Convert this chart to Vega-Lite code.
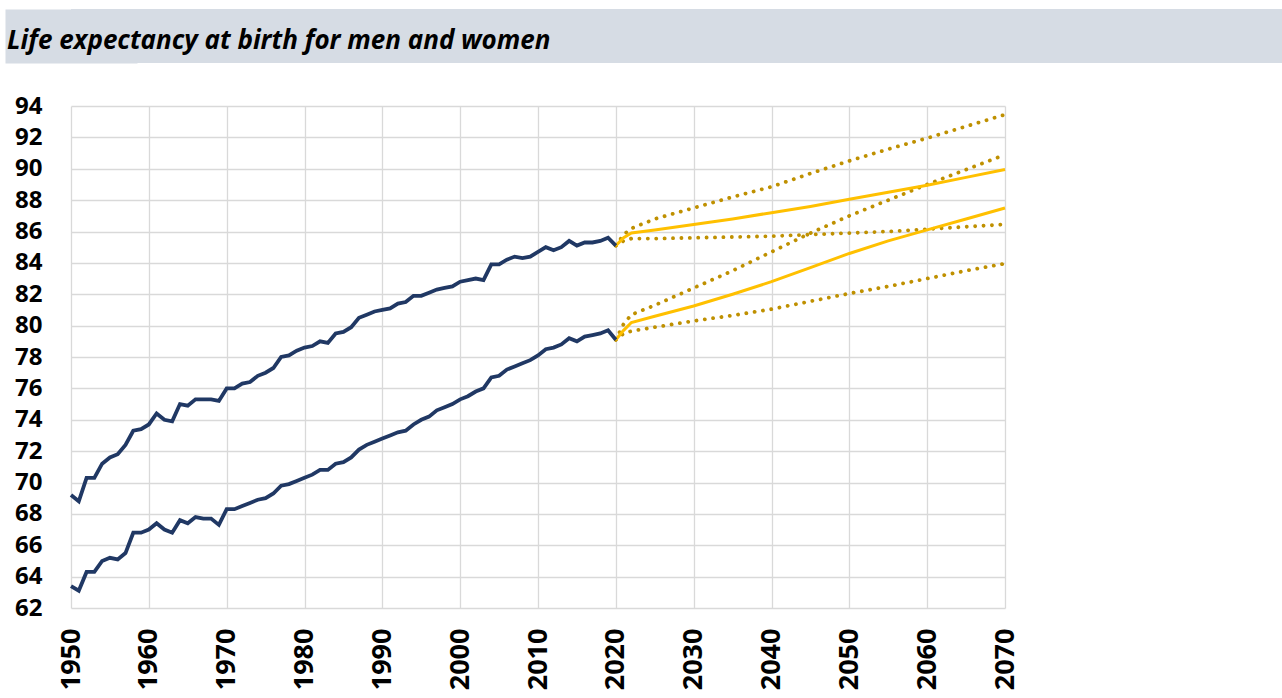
{
  "$schema": "https://vega.github.io/schema/vega-lite/v6.json",
  "background": "white",
  "padding": {"left": 5, "top": 9, "right": 0, "bottom": 0},
  "spacing": 31,
  "config": {"view": {"stroke": null}},
  "datasets": {
    "le": [
      {"year":1950,"le":69.2,"sex":"Women","v":"observed"},{"year":1951,"le":68.8,"sex":"Women","v":"observed"},{"year":1952,"le":70.3,"sex":"Women","v":"observed"},{"year":1953,"le":70.3,"sex":"Women","v":"observed"},{"year":1954,"le":71.2,"sex":"Women","v":"observed"},{"year":1955,"le":71.6,"sex":"Women","v":"observed"},{"year":1956,"le":71.8,"sex":"Women","v":"observed"},{"year":1957,"le":72.4,"sex":"Women","v":"observed"},{"year":1958,"le":73.3,"sex":"Women","v":"observed"},{"year":1959,"le":73.4,"sex":"Women","v":"observed"},
      {"year":1960,"le":73.7,"sex":"Women","v":"observed"},{"year":1961,"le":74.4,"sex":"Women","v":"observed"},{"year":1962,"le":74.0,"sex":"Women","v":"observed"},{"year":1963,"le":73.9,"sex":"Women","v":"observed"},{"year":1964,"le":75.0,"sex":"Women","v":"observed"},{"year":1965,"le":74.9,"sex":"Women","v":"observed"},{"year":1966,"le":75.3,"sex":"Women","v":"observed"},{"year":1967,"le":75.3,"sex":"Women","v":"observed"},{"year":1968,"le":75.3,"sex":"Women","v":"observed"},{"year":1969,"le":75.2,"sex":"Women","v":"observed"},
      {"year":1970,"le":76.0,"sex":"Women","v":"observed"},{"year":1971,"le":76.0,"sex":"Women","v":"observed"},{"year":1972,"le":76.3,"sex":"Women","v":"observed"},{"year":1973,"le":76.4,"sex":"Women","v":"observed"},{"year":1974,"le":76.8,"sex":"Women","v":"observed"},{"year":1975,"le":77.0,"sex":"Women","v":"observed"},{"year":1976,"le":77.3,"sex":"Women","v":"observed"},{"year":1977,"le":78.0,"sex":"Women","v":"observed"},{"year":1978,"le":78.1,"sex":"Women","v":"observed"},{"year":1979,"le":78.4,"sex":"Women","v":"observed"},
      {"year":1980,"le":78.6,"sex":"Women","v":"observed"},{"year":1981,"le":78.7,"sex":"Women","v":"observed"},{"year":1982,"le":79.0,"sex":"Women","v":"observed"},{"year":1983,"le":78.9,"sex":"Women","v":"observed"},{"year":1984,"le":79.5,"sex":"Women","v":"observed"},{"year":1985,"le":79.6,"sex":"Women","v":"observed"},{"year":1986,"le":79.9,"sex":"Women","v":"observed"},{"year":1987,"le":80.5,"sex":"Women","v":"observed"},{"year":1988,"le":80.7,"sex":"Women","v":"observed"},{"year":1989,"le":80.9,"sex":"Women","v":"observed"},
      {"year":1990,"le":81.0,"sex":"Women","v":"observed"},{"year":1991,"le":81.1,"sex":"Women","v":"observed"},{"year":1992,"le":81.4,"sex":"Women","v":"observed"},{"year":1993,"le":81.5,"sex":"Women","v":"observed"},{"year":1994,"le":81.9,"sex":"Women","v":"observed"},{"year":1995,"le":81.9,"sex":"Women","v":"observed"},{"year":1996,"le":82.1,"sex":"Women","v":"observed"},{"year":1997,"le":82.3,"sex":"Women","v":"observed"},{"year":1998,"le":82.4,"sex":"Women","v":"observed"},{"year":1999,"le":82.5,"sex":"Women","v":"observed"},
      {"year":2000,"le":82.8,"sex":"Women","v":"observed"},{"year":2001,"le":82.9,"sex":"Women","v":"observed"},{"year":2002,"le":83.0,"sex":"Women","v":"observed"},{"year":2003,"le":82.9,"sex":"Women","v":"observed"},{"year":2004,"le":83.9,"sex":"Women","v":"observed"},{"year":2005,"le":83.9,"sex":"Women","v":"observed"},{"year":2006,"le":84.2,"sex":"Women","v":"observed"},{"year":2007,"le":84.4,"sex":"Women","v":"observed"},{"year":2008,"le":84.3,"sex":"Women","v":"observed"},{"year":2009,"le":84.4,"sex":"Women","v":"observed"},
      {"year":2010,"le":84.7,"sex":"Women","v":"observed"},{"year":2011,"le":85.0,"sex":"Women","v":"observed"},{"year":2012,"le":84.8,"sex":"Women","v":"observed"},{"year":2013,"le":85.0,"sex":"Women","v":"observed"},{"year":2014,"le":85.4,"sex":"Women","v":"observed"},{"year":2015,"le":85.1,"sex":"Women","v":"observed"},{"year":2016,"le":85.3,"sex":"Women","v":"observed"},{"year":2017,"le":85.3,"sex":"Women","v":"observed"},{"year":2018,"le":85.4,"sex":"Women","v":"observed"},{"year":2019,"le":85.6,"sex":"Women","v":"observed"},{"year":2020,"le":85.1,"sex":"Women","v":"observed"},
      {"year":1950,"le":63.4,"sex":"Men","v":"observed"},{"year":1951,"le":63.1,"sex":"Men","v":"observed"},{"year":1952,"le":64.3,"sex":"Men","v":"observed"},{"year":1953,"le":64.3,"sex":"Men","v":"observed"},{"year":1954,"le":65.0,"sex":"Men","v":"observed"},{"year":1955,"le":65.2,"sex":"Men","v":"observed"},{"year":1956,"le":65.1,"sex":"Men","v":"observed"},{"year":1957,"le":65.5,"sex":"Men","v":"observed"},{"year":1958,"le":66.8,"sex":"Men","v":"observed"},{"year":1959,"le":66.8,"sex":"Men","v":"observed"},
      {"year":1960,"le":67.0,"sex":"Men","v":"observed"},{"year":1961,"le":67.4,"sex":"Men","v":"observed"},{"year":1962,"le":67.0,"sex":"Men","v":"observed"},{"year":1963,"le":66.8,"sex":"Men","v":"observed"},{"year":1964,"le":67.6,"sex":"Men","v":"observed"},{"year":1965,"le":67.4,"sex":"Men","v":"observed"},{"year":1966,"le":67.8,"sex":"Men","v":"observed"},{"year":1967,"le":67.7,"sex":"Men","v":"observed"},{"year":1968,"le":67.7,"sex":"Men","v":"observed"},{"year":1969,"le":67.3,"sex":"Men","v":"observed"},
      {"year":1970,"le":68.3,"sex":"Men","v":"observed"},{"year":1971,"le":68.3,"sex":"Men","v":"observed"},{"year":1972,"le":68.5,"sex":"Men","v":"observed"},{"year":1973,"le":68.7,"sex":"Men","v":"observed"},{"year":1974,"le":68.9,"sex":"Men","v":"observed"},{"year":1975,"le":69.0,"sex":"Men","v":"observed"},{"year":1976,"le":69.3,"sex":"Men","v":"observed"},{"year":1977,"le":69.8,"sex":"Men","v":"observed"},{"year":1978,"le":69.9,"sex":"Men","v":"observed"},{"year":1979,"le":70.1,"sex":"Men","v":"observed"},
      {"year":1980,"le":70.3,"sex":"Men","v":"observed"},{"year":1981,"le":70.5,"sex":"Men","v":"observed"},{"year":1982,"le":70.8,"sex":"Men","v":"observed"},{"year":1983,"le":70.8,"sex":"Men","v":"observed"},{"year":1984,"le":71.2,"sex":"Men","v":"observed"},{"year":1985,"le":71.3,"sex":"Men","v":"observed"},{"year":1986,"le":71.6,"sex":"Men","v":"observed"},{"year":1987,"le":72.1,"sex":"Men","v":"observed"},{"year":1988,"le":72.4,"sex":"Men","v":"observed"},{"year":1989,"le":72.6,"sex":"Men","v":"observed"},
      {"year":1990,"le":72.8,"sex":"Men","v":"observed"},{"year":1991,"le":73.0,"sex":"Men","v":"observed"},{"year":1992,"le":73.2,"sex":"Men","v":"observed"},{"year":1993,"le":73.3,"sex":"Men","v":"observed"},{"year":1994,"le":73.7,"sex":"Men","v":"observed"},{"year":1995,"le":74.0,"sex":"Men","v":"observed"},{"year":1996,"le":74.2,"sex":"Men","v":"observed"},{"year":1997,"le":74.6,"sex":"Men","v":"observed"},{"year":1998,"le":74.8,"sex":"Men","v":"observed"},{"year":1999,"le":75.0,"sex":"Men","v":"observed"},
      {"year":2000,"le":75.3,"sex":"Men","v":"observed"},{"year":2001,"le":75.5,"sex":"Men","v":"observed"},{"year":2002,"le":75.8,"sex":"Men","v":"observed"},{"year":2003,"le":76.0,"sex":"Men","v":"observed"},{"year":2004,"le":76.7,"sex":"Men","v":"observed"},{"year":2005,"le":76.8,"sex":"Men","v":"observed"},{"year":2006,"le":77.2,"sex":"Men","v":"observed"},{"year":2007,"le":77.4,"sex":"Men","v":"observed"},{"year":2008,"le":77.6,"sex":"Men","v":"observed"},{"year":2009,"le":77.8,"sex":"Men","v":"observed"},
      {"year":2010,"le":78.1,"sex":"Men","v":"observed"},{"year":2011,"le":78.5,"sex":"Men","v":"observed"},{"year":2012,"le":78.6,"sex":"Men","v":"observed"},{"year":2013,"le":78.8,"sex":"Men","v":"observed"},{"year":2014,"le":79.2,"sex":"Men","v":"observed"},{"year":2015,"le":79.0,"sex":"Men","v":"observed"},{"year":2016,"le":79.3,"sex":"Men","v":"observed"},{"year":2017,"le":79.4,"sex":"Men","v":"observed"},{"year":2018,"le":79.5,"sex":"Men","v":"observed"},{"year":2019,"le":79.7,"sex":"Men","v":"observed"},{"year":2020,"le":79.1,"sex":"Men","v":"observed"},
      {"year":2020,"le":85.1,"sex":"Women","v":"central"},{"year":2021,"le":85.6,"sex":"Women","v":"central"},{"year":2022,"le":85.9,"sex":"Women","v":"central"},{"year":2025,"le":86.1,"sex":"Women","v":"central"},{"year":2030,"le":86.45,"sex":"Women","v":"central"},{"year":2035,"le":86.8,"sex":"Women","v":"central"},{"year":2040,"le":87.2,"sex":"Women","v":"central"},{"year":2045,"le":87.6,"sex":"Women","v":"central"},{"year":2050,"le":88.05,"sex":"Women","v":"central"},{"year":2055,"le":88.5,"sex":"Women","v":"central"},{"year":2060,"le":88.95,"sex":"Women","v":"central"},{"year":2065,"le":89.45,"sex":"Women","v":"central"},{"year":2070,"le":89.95,"sex":"Women","v":"central"},
      {"year":2020,"le":85.1,"sex":"Women","v":"high"},{"year":2021,"le":85.8,"sex":"Women","v":"high"},{"year":2022,"le":86.2,"sex":"Women","v":"high"},{"year":2025,"le":86.8,"sex":"Women","v":"high"},{"year":2030,"le":87.5,"sex":"Women","v":"high"},{"year":2035,"le":88.2,"sex":"Women","v":"high"},{"year":2040,"le":88.85,"sex":"Women","v":"high"},{"year":2045,"le":89.7,"sex":"Women","v":"high"},{"year":2050,"le":90.5,"sex":"Women","v":"high"},{"year":2055,"le":91.25,"sex":"Women","v":"high"},{"year":2060,"le":91.95,"sex":"Women","v":"high"},{"year":2065,"le":92.7,"sex":"Women","v":"high"},{"year":2070,"le":93.45,"sex":"Women","v":"high"},
      {"year":2020,"le":85.1,"sex":"Women","v":"low"},{"year":2021,"le":85.4,"sex":"Women","v":"low"},{"year":2022,"le":85.55,"sex":"Women","v":"low"},{"year":2025,"le":85.55,"sex":"Women","v":"low"},{"year":2030,"le":85.6,"sex":"Women","v":"low"},{"year":2035,"le":85.65,"sex":"Women","v":"low"},{"year":2040,"le":85.7,"sex":"Women","v":"low"},{"year":2045,"le":85.8,"sex":"Women","v":"low"},{"year":2050,"le":85.9,"sex":"Women","v":"low"},{"year":2055,"le":86.0,"sex":"Women","v":"low"},{"year":2060,"le":86.15,"sex":"Women","v":"low"},{"year":2065,"le":86.3,"sex":"Women","v":"low"},{"year":2070,"le":86.45,"sex":"Women","v":"low"},
      {"year":2020,"le":79.1,"sex":"Men","v":"central"},{"year":2021,"le":79.7,"sex":"Men","v":"central"},{"year":2022,"le":80.2,"sex":"Men","v":"central"},{"year":2025,"le":80.6,"sex":"Men","v":"central"},{"year":2030,"le":81.25,"sex":"Men","v":"central"},{"year":2035,"le":82.0,"sex":"Men","v":"central"},{"year":2040,"le":82.8,"sex":"Men","v":"central"},{"year":2045,"le":83.7,"sex":"Men","v":"central"},{"year":2050,"le":84.6,"sex":"Men","v":"central"},{"year":2055,"le":85.4,"sex":"Men","v":"central"},{"year":2060,"le":86.1,"sex":"Men","v":"central"},{"year":2065,"le":86.8,"sex":"Men","v":"central"},{"year":2070,"le":87.5,"sex":"Men","v":"central"},
      {"year":2020,"le":79.1,"sex":"Men","v":"high"},{"year":2021,"le":80.1,"sex":"Men","v":"high"},{"year":2022,"le":80.7,"sex":"Men","v":"high"},{"year":2025,"le":81.3,"sex":"Men","v":"high"},{"year":2030,"le":82.4,"sex":"Men","v":"high"},{"year":2035,"le":83.5,"sex":"Men","v":"high"},{"year":2040,"le":84.7,"sex":"Men","v":"high"},{"year":2045,"le":85.9,"sex":"Men","v":"high"},{"year":2050,"le":87.0,"sex":"Men","v":"high"},{"year":2055,"le":88.0,"sex":"Men","v":"high"},{"year":2060,"le":89.0,"sex":"Men","v":"high"},{"year":2065,"le":89.95,"sex":"Men","v":"high"},{"year":2070,"le":90.9,"sex":"Men","v":"high"},
      {"year":2020,"le":79.1,"sex":"Men","v":"low"},{"year":2021,"le":79.5,"sex":"Men","v":"low"},{"year":2022,"le":79.65,"sex":"Men","v":"low"},{"year":2025,"le":79.9,"sex":"Men","v":"low"},{"year":2030,"le":80.3,"sex":"Men","v":"low"},{"year":2035,"le":80.65,"sex":"Men","v":"low"},{"year":2040,"le":81.05,"sex":"Men","v":"low"},{"year":2045,"le":81.55,"sex":"Men","v":"low"},{"year":2050,"le":82.05,"sex":"Men","v":"low"},{"year":2055,"le":82.5,"sex":"Men","v":"low"},{"year":2060,"le":83.0,"sex":"Men","v":"low"},{"year":2065,"le":83.5,"sex":"Men","v":"low"},{"year":2070,"le":83.95,"sex":"Men","v":"low"}
    ]
  },
  "vconcat": [
    {
      "width": 1211,
      "height": 54,
      "view": {"fill": "#d6dce4", "stroke": null},
      "title": {
        "text": "Life expectancy at birth for men and women",
        "anchor": "start",
        "frame": "group",
        "orient": "top",
        "offset": -45,
        "dx": -64,
        "font": "Open Sans",
        "fontSize": 26,
        "fontStyle": "italic",
        "fontWeight": "bold",
        "color": "#000000"
      },
      "data": {"values": [{}]},
      "mark": {"type": "point", "opacity": 0, "size": 0},
      "encoding": {
        "y": {
          "datum": 0, "type": "quantitative",
          "axis": {
            "title": null, "labels": false, "ticks": false, "grid": false,
            "domain": true, "domainColor": "#d6dce4", "domainWidth": 132, "domainCap": "butt",
            "minExtent": 66, "maxExtent": 66
          }
        }
      }
    },
    {
      "width": 934,
      "height": 502,
      "data": {"name": "le"},
      "encoding": {
        "x": {
          "field": "year", "type": "quantitative",
          "scale": {"domain": [1950, 2070], "nice": false, "zero": false},
          "axis": {
            "title": null, "values": [1950,1960,1970,1980,1990,2000,2010,2020,2030,2040,2050,2060,2070],
            "format": "d", "labelAngle": -90, "labelFont": "Open Sans", "labelFontWeight": "bold",
            "labelFontSize": 27, "labelColor": "#000000", "labelPadding": 20, "ticks": false, "domain": false,
            "grid": true, "gridColor": "#d9d9d9", "gridWidth": 1.3, "labelFlush": false, "labelOverlap": false
          }
        },
        "y": {
          "field": "le", "type": "quantitative",
          "scale": {"domain": [62, 94], "nice": false, "zero": false},
          "axis": {
            "title": null, "values": [62,64,66,68,70,72,74,76,78,80,82,84,86,88,90,92,94],
            "labelFont": "Open Sans", "labelFontWeight": "bold", "labelFontSize": 24, "labelColor": "#000000",
            "labelPadding": 29, "ticks": false, "domain": false, "minExtent": 66,
            "grid": true, "gridColor": "#d9d9d9", "gridWidth": 1.3, "labelFlush": false, "labelOverlap": false
          }
        },
        "detail": {"field": "sex"}
      },
      "layer": [
        {
          "transform": [{"filter": "datum.v === 'high' || datum.v === 'low'"}],
          "mark": {"type": "line", "color": "#bf9000", "strokeWidth": 3.8, "strokeCap": "round", "strokeDash": [0.1, 8.3]},
          "encoding": {"detail": {"field": "v"}, "strokeDash": {"field": "sex", "legend": null, "scale": {"range": [[0.1, 8.3], [0.1, 8.3]]}}}
        },
        {
          "transform": [{"filter": "datum.v === 'central'"}],
          "mark": {"type": "line", "color": "#ffc000", "strokeWidth": 3}
        },
        {
          "transform": [{"filter": "datum.v === 'observed'"}],
          "mark": {"type": "line", "color": "#203864", "strokeWidth": 3.8}
        }
      ]
    }
  ]
}
